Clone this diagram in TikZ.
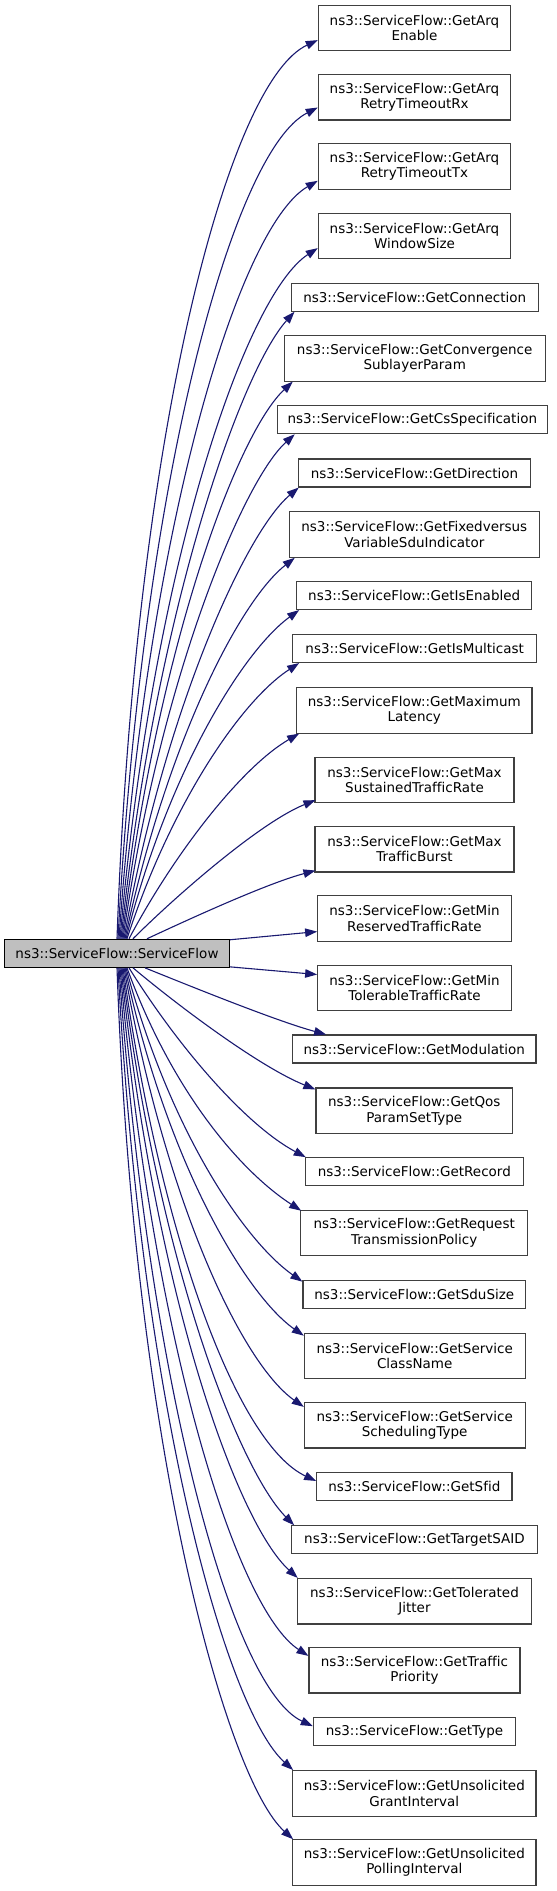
\documentclass[tikz,border=0pt]{standalone}
\usepackage{fontspec}
\setmainfont[Ligatures=NoCommon]{DejaVu Sans}
\usetikzlibrary{arrows.meta,calc}
\definecolor{edgec}{HTML}{191970}
\definecolor{boxc}{HTML}{404040}
\definecolor{mainfill}{HTML}{BFBFBF}
\begin{document}
\begin{tikzpicture}[x=1pt,y=1pt,
  fn/.style={draw=boxc, line width=1.1pt, fill=white, inner sep=0pt, align=center,
    font=\fontsize{13.5}{15.5}\selectfont},
  one/.style={fn, minimum height=28, minimum width=#1},
  two/.style={fn, minimum height=45.5, minimum width=#1},
  edge/.style={draw=edgec, line width=1.1pt, -{Triangle[length=12pt,width=8.5pt,fill=edgec]}}]
\useasboundingbox (0,0) rectangle (557,-1891);

\node[fn, fill=mainfill, draw=black, minimum width=225, minimum height=28] (main) at (117,-953.3) {ns3::ServiceFlow::ServiceFlow};

\node[two=192.4] (a1) at (414.5,-27.8) {ns3::ServiceFlow::GetArq\\Enable};
\node[two=192.4] (a2) at (414.5,-97.2) {ns3::ServiceFlow::GetArq\\RetryTimeoutRx};
\node[two=192.4] (a3) at (414.5,-166.5) {ns3::ServiceFlow::GetArq\\RetryTimeoutTx};
\node[two=192.4] (a4) at (414.5,-235.8) {ns3::ServiceFlow::GetArq\\WindowSize};
\node[one=247.3] (a5) at (414.7,-297.2) {ns3::ServiceFlow::GetConnection};
\node[two=260.7] (a6) at (414.7,-358.3) {ns3::ServiceFlow::GetConvergence\\SublayerParam};
\node[one=270] (a7) at (412.3,-419.7) {ns3::ServiceFlow::GetCsSpecification};
\node[one=232.4] (a8) at (414.5,-473) {ns3::ServiceFlow::GetDirection};
\node[two=250] (a9) at (414.3,-534.5) {ns3::ServiceFlow::GetFixedversus\\VariableSduIndicator};
\node[one=235] (a10) at (414.2,-595.5) {ns3::ServiceFlow::GetIsEnabled};
\node[one=244] (a11) at (414.7,-648.5) {ns3::ServiceFlow::GetIsMulticast};
\node[two=235.3] (a12) at (414.3,-710.3) {ns3::ServiceFlow::GetMaximum\\Latency};
\node[two=199] (a13) at (414.5,-779.8) {ns3::ServiceFlow::GetMax\\SustainedTrafficRate};
\node[two=199] (a14) at (414.5,-849.2) {ns3::ServiceFlow::GetMax\\TrafficBurst};
\node[two=193.6] (a15) at (414.5,-918.3) {ns3::ServiceFlow::GetMin\\ReservedTrafficRate};
\node[two=193.6] (a16) at (414.5,-987.8) {ns3::ServiceFlow::GetMin\\TolerableTrafficRate};
\node[one=243.3] (a17) at (414.3,-1049) {ns3::ServiceFlow::GetModulation};
\node[two=196.7] (a18) at (414.3,-1110.7) {ns3::ServiceFlow::GetQos\\ParamSetType};
\node[one=218] (a19) at (414.3,-1171.7) {ns3::ServiceFlow::GetRecord};
\node[two=227] (a20) at (414.2,-1233) {ns3::ServiceFlow::GetRequest\\TransmissionPolicy};
\node[one=222.7] (a21) at (414.3,-1294.2) {ns3::ServiceFlow::GetSduSize};
\node[two=220.7] (a22) at (414.7,-1356) {ns3::ServiceFlow::GetService\\ClassName};
\node[two=220.7] (a23) at (414.7,-1425.2) {ns3::ServiceFlow::GetService\\SchedulingType};
\node[one=195.3] (a24) at (414.3,-1486.5) {ns3::ServiceFlow::GetSfid};
\node[one=245.6] (a25) at (414.5,-1539.8) {ns3::ServiceFlow::GetTargetSAID};
\node[two=234.4] (a26) at (414.5,-1601.2) {ns3::ServiceFlow::GetTolerated\\Jitter};
\node[two=211] (a27) at (414.5,-1670.2) {ns3::ServiceFlow::GetTraffic\\Priority};
\node[one=202.4] (a28) at (414.5,-1731.7) {ns3::ServiceFlow::GetType};
\node[two=243.3] (a29) at (414.3,-1793.3) {ns3::ServiceFlow::GetUnsolicited\\GrantInterval};
\node[two=243.3] (a30) at (414.3,-1862.5) {ns3::ServiceFlow::GetUnsolicited\\PollingInterval};

% upper edges
\draw[edge] ([xshift=0pt]main.north) .. controls +(88:500) and +(205:100) .. ($(a1.south west)+(0,11)$);
\draw[edge] ([xshift=1pt]main.north) .. controls +(87:460) and +(207:95) .. ($(a2.south west)+(0,13)$);
\draw[edge] ([xshift=2pt]main.north) .. controls +(86:420) and +(210:90) .. ($(a3.south west)+(0,9)$);
\draw[edge] ([xshift=3pt]main.north) .. controls +(85:380) and +(213:85) .. ($(a4.south west)+(0,11)$);
\draw[edge] ([xshift=4pt]main.north) .. controls +(84:330) and +(228:80) .. ($(a5.south west)+(4,0)$);
\draw[edge] ([xshift=5pt]main.north) .. controls +(83:300) and +(223:75) .. ($(a6.south west)+(9,0)$);
\draw[edge] ([xshift=6pt]main.north) .. controls +(82:260) and +(222:70) .. ($(a7.south west)+(18,0)$);
\draw[edge] ([xshift=7pt]main.north) .. controls +(80:230) and +(220:70) .. ($(a8.south west)+(1,0)$);
\draw[edge] ([xshift=8pt]main.north) .. controls +(78:200) and +(218:70) .. ($(a9.south west)+(6,0)$);
\draw[edge] ([xshift=9pt]main.north) .. controls +(76:170) and +(216:70) .. ($(a10.south west)+(3,0)$);
\draw[edge] ([xshift=10pt]main.north) .. controls +(72:140) and +(213:70) .. ($(a11.south west)+(7,0)$);
\draw[edge] ([xshift=12pt]main.north) .. controls +(62:100) and +(210:65) .. ($(a12.south west)+(3,0)$);
\draw[edge] ([xshift=16pt]main.north) .. controls +(45:60) and +(202:60) .. ($(a13.south west)+(1,3)$);
\draw[edge] ([xshift=30pt]main.north) .. controls +(25:50) and +(195:50) .. ($(a14.south west)+(1,2)$);
\draw[edge] ($(main.north east)+(0,-1)$) -- ($(a15.south west)+(0,10)$);
% lower edges
\draw[edge] ($(main.south east)+(0,1)$) -- ($(a16.north west)+(0,-10)$);
\draw[edge] ([xshift=28pt]main.south) .. controls +(-22:50) and +(165:50) .. ($(a17.north west)+(34,0)$);
\draw[edge] ([xshift=16pt]main.south) .. controls +(-40:60) and +(158:60) .. ($(a18.north west)+(0,-2)$);
\draw[edge] ([xshift=12pt]main.south) .. controls +(-58:100) and +(152:65) .. ($(a19.north west)+(1,0)$);
\draw[edge] ([xshift=10pt]main.south) .. controls +(-70:135) and +(147:70) .. ($(a20.north west)+(1,-1)$);
\draw[edge] ([xshift=9pt]main.south) .. controls +(-75:170) and +(145:70) .. ($(a21.north west)+(0,-2)$);
\draw[edge] ([xshift=8pt]main.south) .. controls +(-78:200) and +(145:70) .. ($(a22.north west)+(0,-3)$);
\draw[edge] ([xshift=7pt]main.south) .. controls +(-80:240) and +(145:75) .. ($(a23.north west)+(0,-5)$);
\draw[edge] ([xshift=6pt]main.south) .. controls +(-82:280) and +(155:85) .. ($(a24.north west)+(0,-9)$);
\draw[edge] ([xshift=5pt]main.south) .. controls +(-83:305) and +(135:75) .. ($(a25.north west)+(3,0)$);
\draw[edge] ([xshift=4pt]main.south) .. controls +(-84:335) and +(138:80) .. ($(a26.north west)+(1,0)$);
\draw[edge] ([xshift=3pt]main.south) .. controls +(-85:380) and +(147:85) .. ($(a27.north west)+(0,-9)$);
\draw[edge] ([xshift=2pt]main.south) .. controls +(-86:415) and +(155:90) .. ($(a28.north west)+(0,-9)$);
\draw[edge] ([xshift=1pt]main.south) .. controls +(-87:440) and +(138:90) .. ($(a29.north west)+(1,0)$);
\draw[edge] ([xshift=0pt]main.south) .. controls +(-88:480) and +(138:90) .. ($(a30.north west)+(1,0)$);
\end{tikzpicture}
\end{document}
